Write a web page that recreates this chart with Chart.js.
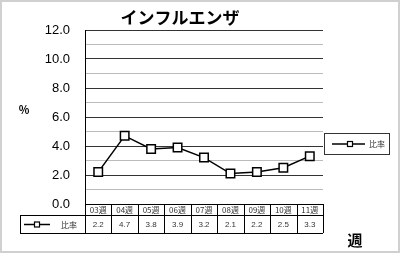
<!DOCTYPE html>
<html>
<head>
<meta charset="utf-8">
<script src="https://cdn.jsdelivr.net/npm/chart.js@4/dist/chart.umd.min.js"></script>
<style>
  html, body { margin: 0; padding: 0; background: #fff; }
  #wrap { width: 400px; height: 253px; position: relative; }
</style>
</head>
<body>
<div id="wrap"><canvas id="c" width="400" height="253"></canvas></div>
<script>
  const weeks = ['03週', '04週', '05週', '06週', '07週', '08週', '09週', '10週', '11週'];
  const ratio = [2.2, 4.7, 3.8, 3.9, 3.2, 2.1, 2.2, 2.5, 3.3];
  const seriesName = '比率';
  const chartTitle = 'インフルエンザ';

  const jp = '"Noto Sans CJK JP", sans-serif';
  const num = '"Liberation Sans", Arial, sans-serif';

  function marker(ctx, x, y, size) {
    ctx.fillStyle = '#fff';
    ctx.strokeStyle = '#000';
    ctx.lineWidth = 1.2;
    ctx.fillRect(x - size / 2, y - size / 2, size, size);
    ctx.strokeRect(x - size / 2, y - size / 2, size, size);
  }

  const extras = {
    id: 'extras',
    afterDraw(chart) {
      const ctx = chart.ctx;
      const xs = chart.scales.x;
      const area = chart.chartArea;
      ctx.save();

      // outer frame
      ctx.strokeStyle = '#d0d0d0';
      ctx.lineWidth = 2;
      ctx.strokeRect(1, 1, 398, 251);

      // title
      ctx.fillStyle = '#000';
      ctx.font = 'bold 17px ' + jp;
      ctx.textAlign = 'center';
      ctx.textBaseline = 'middle';
      ctx.fillText(chartTitle, 180, 18);

      // axis labels
      ctx.font = 'bold 11px ' + jp;
      ctx.fillText('%', 24, 110);
      ctx.font = 'bold 15px ' + jp;
      ctx.fillText('週', 355, 240);

      // data table
      const colW = (area.right - area.left) / weeks.length;
      const top = area.bottom, mid = top + 11, bot = top + 29, labelLeft = 20;
      ctx.strokeStyle = '#000';
      ctx.lineWidth = 1;
      ctx.beginPath();
      ctx.moveTo(area.left, top + 0.5); ctx.lineTo(area.right, top + 0.5);
      ctx.moveTo(labelLeft, mid + 0.5); ctx.lineTo(area.right, mid + 0.5);
      ctx.moveTo(labelLeft, bot + 0.5); ctx.lineTo(area.right, bot + 0.5);
      ctx.moveTo(labelLeft + 0.5, mid); ctx.lineTo(labelLeft + 0.5, bot);
      for (let i = 0; i <= weeks.length; i++) {
        const x = Math.round(area.left + i * colW) + 0.5;
        ctx.moveTo(x, top); ctx.lineTo(x, bot);
      }
      ctx.stroke();

      ctx.textAlign = 'center';
      ctx.textBaseline = 'middle';
      weeks.forEach((w, i) => {
        const x = xs.getPixelForValue(i);
        ctx.fillStyle = '#333';
        ctx.font = '8px ' + jp;
        ctx.fillText(w, x, (top + mid) / 2 + 0.5);
        ctx.font = '8px ' + num;
        ctx.fillText(ratio[i].toFixed(1), x, (mid + bot) / 2 + 0.5);
      });

      // legend key in table
      const ky = (mid + bot) / 2 + 0.5;
      ctx.strokeStyle = '#000';
      ctx.lineWidth = 1.5;
      ctx.beginPath(); ctx.moveTo(24, ky); ctx.lineTo(50, ky); ctx.stroke();
      marker(ctx, 37, ky, 5);
      ctx.fillStyle = '#333';
      ctx.font = '8px ' + jp;
      ctx.fillText(seriesName, 69, ky);

      // legend box on right
      ctx.strokeStyle = '#333';
      ctx.lineWidth = 1;
      ctx.strokeRect(324.5, 133.5, 65, 21);
      ctx.strokeStyle = '#000';
      ctx.lineWidth = 1.5;
      ctx.beginPath(); ctx.moveTo(332, 144); ctx.lineTo(365, 144); ctx.stroke();
      marker(ctx, 350, 144, 5);
      ctx.fillStyle = '#333';
      ctx.font = '8px ' + jp;
      ctx.fillText(seriesName, 377, 144);

      ctx.restore();
    }
  };

  new Chart(document.getElementById('c'), {
    type: 'line',
    data: {
      labels: weeks,
      datasets: [{
        label: seriesName,
        data: ratio,
        borderColor: '#000',
        borderWidth: 1.5,
        pointStyle: 'rect',
        pointRadius: 6,
        pointBackgroundColor: '#fff',
        pointBorderColor: '#000',
        pointBorderWidth: 1.5,
        tension: 0
      }]
    },
    options: {
      responsive: false,
      animation: false,
      layout: { padding: { top: 30, right: 77, bottom: 49, left: 0 } },
      plugins: { legend: { display: false }, tooltip: { enabled: false } },
      scales: {
        x: { display: false, offset: true },
        y: {
          min: 0, max: 12,
          afterFit: (s) => { s.width = 85; },
          border: { display: true, color: '#000', width: 1 },
          grid: {
            drawTicks: false,
            color: (c) => c.tick && c.tick.value % 2 === 0 ? '#333' : '#bbb',
            lineWidth: 1
          },
          ticks: {
            stepSize: 1,
            autoSkip: false,
            padding: 15,
            color: '#000',
            font: { family: num, size: 13 },
            callback: (v) => v % 2 === 0 ? v.toFixed(1) : ''
          }
        }
      }
    },
    plugins: [extras]
  });
</script>
</body>
</html>
